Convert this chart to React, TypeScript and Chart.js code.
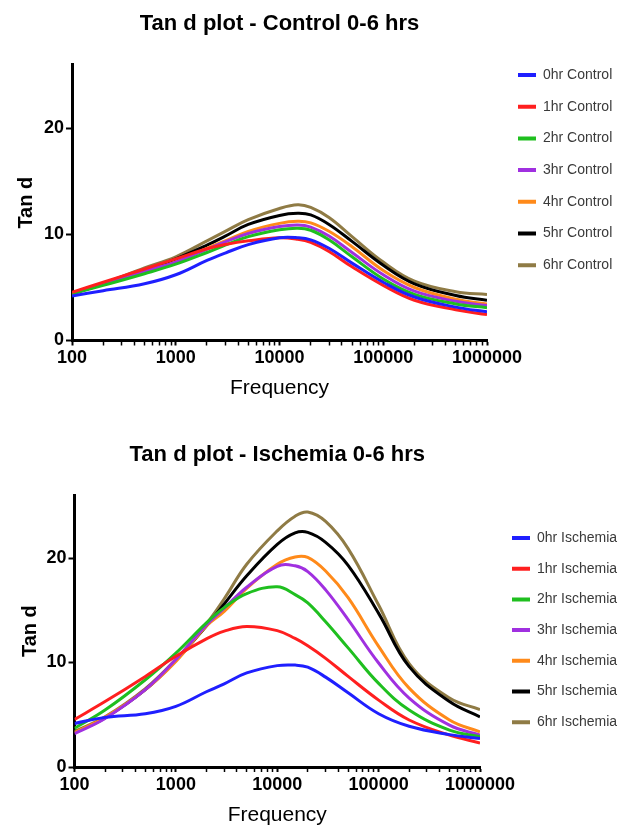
import React, { useEffect, useRef } from 'react';
import { Chart, registerables } from 'chart.js';

Chart.register(...registerables);

const FONT = "'Liberation Sans', Arial, Helvetica, sans-serif";
Chart.defaults.font.family = FONT;
Chart.defaults.color = '#000';

// ---------- data ----------
const frequencies = [100, 200, 500, 1000, 2000, 3000, 5000, 10000, 15000, 20000, 30000, 50000, 100000, 200000, 500000, 1000000];

const controlLabels = ['0hr Control', '1hr Control', '2hr Control', '3hr Control', '4hr Control', '5hr Control', '6hr Control'];
const control0hr = [4.2, 4.7, 5.35, 6.2, 7.55, 8.25, 9.05, 9.7, 9.7, 9.5, 8.7, 7.3, 5.5, 4.1, 3.15, 2.7];
const control1hr = [4.55, 5.5, 6.75, 7.7, 8.65, 9.05, 9.4, 9.7, 9.55, 9.25, 8.4, 6.95, 5.2, 3.8, 2.9, 2.45];
const control2hr = [4.4, 5.2, 6.3, 7.2, 8.3, 9.0, 9.8, 10.45, 10.6, 10.4, 9.5, 7.9, 5.8, 4.35, 3.45, 3.1];
const control3hr = [4.45, 5.3, 6.55, 7.4, 8.6, 9.3, 10.1, 10.75, 10.9, 10.7, 9.85, 8.3, 6.2, 4.65, 3.7, 3.3];
const control4hr = [4.45, 5.3, 6.55, 7.4, 8.7, 9.4, 10.3, 11.05, 11.25, 11.1, 10.3, 8.85, 6.6, 5.0, 3.9, 3.45];
const control5hr = [4.4, 5.35, 6.6, 7.7, 9.0, 9.85, 10.95, 11.8, 12.0, 11.85, 10.95, 9.35, 7.1, 5.35, 4.25, 3.8];
const control6hr = [4.45, 5.4, 6.85, 7.9, 9.4, 10.3, 11.4, 12.45, 12.8, 12.55, 11.6, 9.8, 7.4, 5.6, 4.6, 4.35];

const ischemiaLabels = ['0hr Ischemia', '1hr Ischemia', '2hr Ischemia', '3hr Ischemia', '4hr Ischemia', '5hr Ischemia', '6hr Ischemia'];
const ischemia0hr = [4.17, 4.75, 5.1, 5.8, 7.2, 7.96, 9.0, 9.7, 9.75, 9.55, 8.6, 7.1, 5.1, 3.9, 3.1, 2.73];
const ischemia1hr = [4.55, 6.26, 8.67, 10.6, 12.26, 13.0, 13.45, 13.05, 12.3, 11.6, 10.4, 8.67, 6.4, 4.5, 3.05, 2.3];
const ischemia2hr = [3.7, 5.45, 8.35, 10.9, 13.8, 15.25, 16.6, 17.25, 16.5, 15.7, 13.9, 11.4, 8.0, 5.45, 3.53, 2.9];
const ischemia3hr = [3.2, 4.65, 7.4, 10.3, 13.6, 15.2, 17.2, 19.2, 19.25, 18.7, 16.95, 14.1, 9.95, 6.6, 4.0, 3.05];
const ischemia4hr = [3.3, 4.75, 7.4, 10.1, 13.5, 14.9, 17.1, 19.4, 20.1, 20.05, 18.75, 16.2, 11.55, 7.55, 4.5, 3.37];
const ischemia5hr = [3.3, 4.7, 7.4, 10.2, 13.5, 15.6, 18.3, 21.3, 22.4, 22.45, 21.5, 19.3, 14.7, 9.6, 6.26, 4.8];
const ischemia6hr = [3.4, 4.8, 7.5, 10.3, 13.7, 16.1, 19.4, 22.6, 24.0, 24.4, 23.5, 20.9, 15.5, 9.9, 6.6, 5.5];

const seriesColors = ['#1f1fff', '#ff1f1f', '#1fbf1f', '#a030e0', '#ff8a1a', '#000000', '#8f7b45'];

const xTickLabels = [100, 1000, 10000, 100000, 1000000];
const xMinorMultipliers = [2, 3, 4, 5, 6, 7, 8, 9];
const yTickLabels = [0, 10, 20];
const xMin = 100;
const xMax = 1000000;
const yMin = 0;
const yMax = 26;

const xAllTicks: number[] = [];
xTickLabels.forEach((d, i) => {
  xAllTicks.push(d);
  if (i < xTickLabels.length - 1) xMinorMultipliers.forEach((m) => xAllTicks.push(d * m));
});
xAllTicks.sort((a, b) => a - b);

// ---------- layout ----------
const LEGEND_FONT = 14;
const LEGEND_BOX_W = 18;

const topLayout = {
  width: 627, height: 410,
  yAxisWidth: 72, plotRight: 487, xAxisHeight: 69.5,
  titlePadTop: 11, titlePadBottom: 27.5,
  legendBoxX: 518, legendPadding: 17.7, legendFirstCenter: 75,
  yTitlePad: 16, xTickPad: 1.7, xTitlePadBottom: 11.5,
};
const bottomLayout = {
  width: 627, height: 416,
  yAxisWidth: 74.5, plotRight: 480, xAxisHeight: 59,
  titlePadTop: 31.8, titlePadBottom: 27.1,
  legendBoxX: 512, legendPadding: 16.7, legendFirstCenter: 128,
  yTitlePad: 20, xTickPad: 2.2, xTitlePadBottom: 0.5,
};

function TanDPanel(props: any) {
  const { top, title, labels, series, layout: L } = props;
  const ref = useRef<HTMLCanvasElement>(null);

  useEffect(() => {
    const canvas = ref.current as HTMLCanvasElement;
    const mctx = document.createElement('canvas').getContext('2d') as CanvasRenderingContext2D;
    mctx.font = `${LEGEND_FONT}px ${FONT}`;
    const maxText = Math.max(...labels.map((t: string) => mctx.measureText(t).width));
    const P = L.legendPadding;
    const legendLeft = L.legendBoxX - P;
    const legendTarget = L.width - legendLeft;
    const naturalLegend = P + LEGEND_BOX_W + LEGEND_FONT / 2 + maxText + 10;
    const padRight = Math.max(0, legendTarget - naturalLegend);
    const gap = legendLeft - L.plotRight;
    const spacer = L.legendFirstCenter - LEGEND_FONT / 2 - P;

    const datasets = series.map((vals: number[], i: number) => ({
      label: labels[i],
      data: frequencies.map((f, j) => ({ x: f, y: vals[j] })),
      borderColor: seriesColors[i],
      backgroundColor: seriesColors[i],
      borderWidth: 3,
      pointRadius: 0,
      tension: 0.4,
      fill: false,
      xAxisID: 'x',
      yAxisID: 'y',
    }));

    const chart = new Chart(canvas, {
      type: 'line',
      data: { datasets },
      options: {
        responsive: false,
        maintainAspectRatio: false,
        animation: false,
        layout: { padding: { left: 0, top: 0, bottom: 0, right: padRight } },
        plugins: {
          tooltip: { enabled: false },
          title: {
            display: true,
            text: title,
            fullSize: false,
            color: '#000',
            font: { size: 22, weight: 'bold', lineHeight: 1.2 },
            padding: { top: L.titlePadTop, bottom: L.titlePadBottom },
          },
          legend: {
            display: true,
            position: 'right',
            align: 'start',
            fullSize: true,
            maxWidth: legendTarget,
            title: { display: true, text: '', font: { size: 10, lineHeight: 1 }, padding: { top: spacer - 10, bottom: 0 } },
            labels: {
              boxWidth: LEGEND_BOX_W,
              boxHeight: 4,
              padding: P,
              color: '#3a3a3a',
              font: { size: LEGEND_FONT },
              generateLabels: (c: any) =>
                (Chart.defaults.plugins.legend.labels as any).generateLabels(c).map((l: any) => ({ ...l, lineWidth: 0 })),
            },
          },
        },
        scales: {
          x: {
            type: 'logarithmic',
            position: 'bottom',
            min: xMin,
            max: xMax,
            afterBuildTicks: (s: any) => {
              s.ticks = xAllTicks.map((v) => ({ value: v }));
            },
            afterFit: (s: any) => {
              s.height = L.xAxisHeight;
            },
            ticks: {
              autoSkip: false,
              maxRotation: 0,
              minRotation: 0,
              padding: L.xTickPad,
              color: '#000',
              font: { size: 18, weight: 'bold', lineHeight: 1.2 },
              callback: (v: any) => (xTickLabels.includes(Number(v)) ? String(v) : ''),
            },
            grid: {
              display: true,
              drawOnChartArea: false,
              drawTicks: true,
              tickLength: 5,
              tickColor: '#000',
              tickWidth: (c: any) => (c.tick && xTickLabels.includes(c.tick.value) ? 2 : 1.5),
            },
            border: { display: true, color: '#000', width: 3 },
            title: {
              display: true,
              text: 'Frequency',
              color: '#000',
              font: { size: 21, weight: 'normal', lineHeight: 1 },
              padding: { top: 0, bottom: L.xTitlePadBottom },
            },
          },
          y: {
            type: 'linear',
            position: 'left',
            min: yMin,
            max: yMax,
            afterBuildTicks: (s: any) => {
              s.ticks = yTickLabels.map((v) => ({ value: v }));
            },
            afterFit: (s: any) => {
              s.width = L.yAxisWidth;
            },
            ticks: { padding: 2, color: '#000', font: { size: 18, weight: 'bold' } },
            grid: { display: true, drawOnChartArea: false, drawTicks: true, tickLength: 6, tickWidth: 2, tickColor: '#000' },
            border: { display: true, color: '#000', width: 3 },
            title: {
              display: true,
              text: 'Tan d',
              color: '#000',
              font: { size: 20, weight: 'bold', lineHeight: 1 },
              padding: { top: L.yTitlePad, bottom: 0 },
            },
          },
          gapRight: {
            type: 'linear',
            position: 'right',
            display: true,
            grid: { display: false },
            border: { display: false },
            ticks: { display: false },
            afterFit: (s: any) => {
              s.width = gap;
            },
          },
        },
      } as any,
    });
    return () => chart.destroy();
  }, []);

  return (
    <canvas
      ref={ref}
      width={L.width}
      height={L.height}
      style={{ position: 'absolute', left: 0, top, width: L.width, height: L.height, display: 'block' }}
    />
  );
}

export default function App() {
  return (
    <div style={{ position: 'absolute', left: 0, top: 0, width: 627, height: 826, background: '#fff' }}>
      <TanDPanel
        top={0}
        title="Tan d plot - Control 0-6 hrs"
        labels={controlLabels}
        series={[control0hr, control1hr, control2hr, control3hr, control4hr, control5hr, control6hr]}
        layout={topLayout}
      />
      <TanDPanel
        top={410}
        title="Tan d plot - Ischemia 0-6 hrs"
        labels={ischemiaLabels}
        series={[ischemia0hr, ischemia1hr, ischemia2hr, ischemia3hr, ischemia4hr, ischemia5hr, ischemia6hr]}
        layout={bottomLayout}
      />
    </div>
  );
}
